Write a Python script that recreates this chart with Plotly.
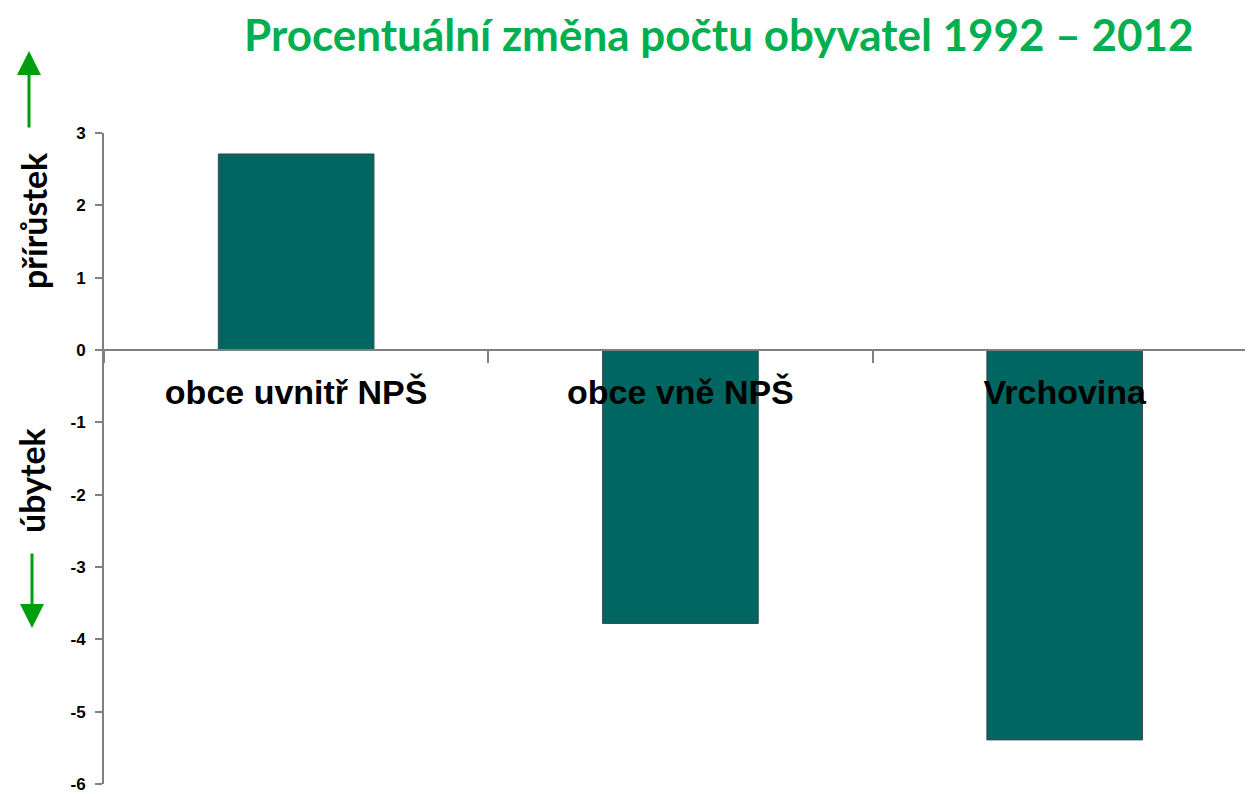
import plotly.graph_objects as go

categories = ["obce uvnitř NPŠ", "obce vně NPŠ", "Vrchovina"]
values = [2.71, -3.78, -5.39]
y_ticks = [3, 2, 1, 0, -1, -2, -3, -4, -5, -6]
y_tick_text = ["3", "2", "1", "0", "-1", "-2", "-3", "-4", "-5", "-6"]
title_text = "Procentuální změna počtu obyvatel 1992 – 2012"
label_up = "přírůstek"
label_down = "úbytek"

OFF = 8  # page body margin
W, H = 1253 - OFF, 794 - OFF
L, R, T, B = 104 - OFF, 0, 133 - OFF, 10
pw, ph = W - L - R, H - T - B

def px(x):
    return (x - OFF - L) / pw

def py(y):
    return (H - B - (y - OFF)) / ph

fig = go.Figure()
fig.add_trace(go.Bar(
    x=categories, y=values, width=0.405,
    marker=dict(color="#006661", line=dict(color="#3c4654", width=1)),
))

fig.update_layout(
    width=W, height=H,
    margin=dict(l=L, r=R, t=T, b=B),
    paper_bgcolor="white", plot_bgcolor="white",
    showlegend=False,
    xaxis=dict(
        type="category", range=[-0.5, 2.49],
        anchor="free", position=6 / 9,
        showline=True, linecolor="#808080", linewidth=2,
        ticks="outside", tickson="boundaries", ticklen=12, tickcolor="#808080", tickwidth=2,
        tickfont=dict(family="Liberation Sans", size=34, color="black", weight="bold"),
        ticklabelstandoff=12,
        showgrid=False, zeroline=False,
    ),
    yaxis=dict(
        range=[-6, 3], tickvals=y_ticks, ticktext=y_tick_text,
        showline=True, linecolor="#808080", linewidth=2,
        ticks="outside", ticklen=7, tickcolor="#808080", tickwidth=2,
        tickfont=dict(family="Liberation Sans", size=17, color="black", weight="bold"),
        ticklabelstandoff=6,
        showgrid=False, zeroline=False,
    ),
)

annotations = [
    dict(text=title_text, x=px(719), y=py(34), xref="paper", yref="paper",
         showarrow=False, xanchor="center", yanchor="middle",
         font=dict(family="Lato", size=44, color="#00B050", weight="bold")),
    dict(text=label_up, x=px(33), y=py(221), xref="paper", yref="paper",
         showarrow=False, textangle=-90, xanchor="center", yanchor="middle",
         font=dict(family="Lato", size=34, color="black", weight="bold")),
    dict(text=label_down, x=px(31), y=py(480), xref="paper", yref="paper",
         showarrow=False, textangle=-90, xanchor="center", yanchor="middle",
         font=dict(family="Lato", size=34, color="black", weight="bold")),
    dict(text="", x=px(29), y=py(51), xref="paper", yref="paper",
         showarrow=True, ax=0, ay=78, arrowhead=2, arrowsize=1.6, arrowwidth=3,
         arrowcolor="#009E0F"),
    dict(text="", x=px(32), y=py(628), xref="paper", yref="paper",
         showarrow=True, ax=0, ay=-76, arrowhead=2, arrowsize=1.6, arrowwidth=3,
         arrowcolor="#009E0F"),
]
fig.update_layout(annotations=annotations)

fig.write_html("out.html")
